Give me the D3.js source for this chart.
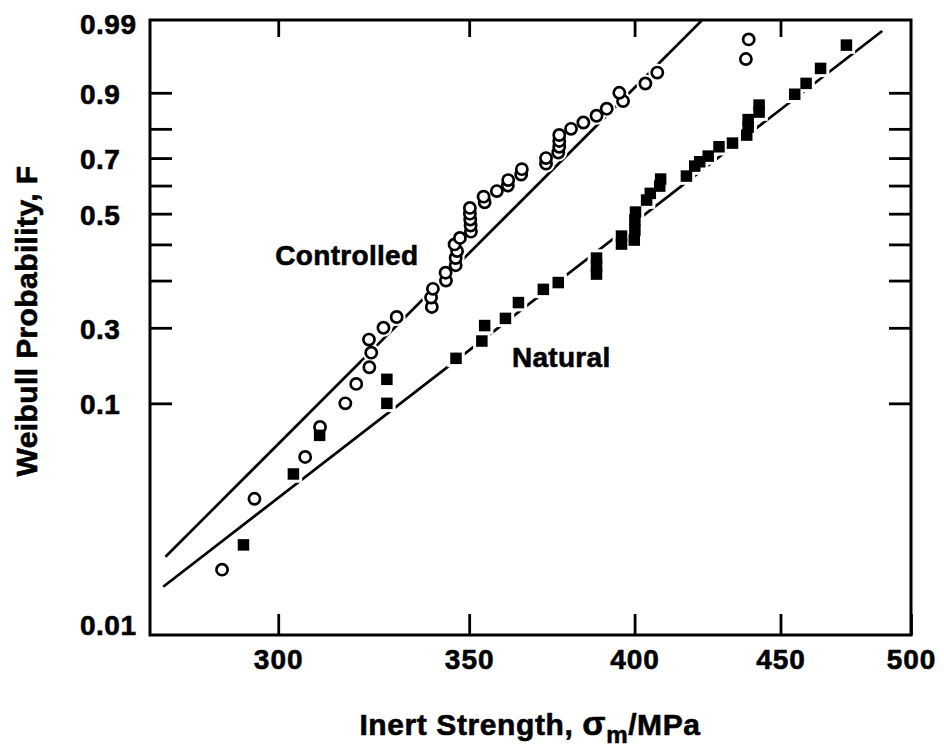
<!DOCTYPE html>
<html><head><meta charset="utf-8">
<script src="https://cdn.jsdelivr.net/npm/d3@7"></script>
<style>
body{margin:0;background:#fff}
text{font-family:"Liberation Sans",Arial,Helvetica,sans-serif;font-weight:bold;fill:#000;stroke:#000;stroke-width:0.6px}
</style>
</head><body>
<svg id="chart" width="944" height="750"></svg>
<script>
// ---- data ----
const controlledStrength = [286.7,294.3,306.6,310.3,316.7,319.5,322.9,323.4,322.8,326.6,330.1,339.6,339.4,339.9,343.5,343.4,346.2,346.2,346.6,345.9,347.4,350.5,350.4,350.3,350.2,350.2,354.4,354.1,357.9,361.1,361.2,365.0,365.2,372.4,372.4,376.1,376.4,376.4,376.4,380.0,383.8,387.9,391.1,396.3,395.1,403.5,407.4,437.6,438.6];
const controlledF = [0.02,0.04,0.06,0.08,0.10,0.12,0.14,0.16,0.18,0.20,0.22,0.24,0.26,0.28,0.30,0.32,0.34,0.36,0.38,0.40,0.42,0.44,0.46,0.48,0.50,0.52,0.54,0.56,0.58,0.60,0.62,0.64,0.66,0.68,0.70,0.72,0.74,0.76,0.78,0.80,0.82,0.84,0.86,0.88,0.90,0.92,0.94,0.96,0.98];
const naturalStrength = [291.7,303.7,310.2,327.5,327.5,346.3,353.6,354.4,360.4,364.2,371.6,376.1,387.9,387.9,387.9,395.8,399.9,395.8,400.1,400.1,400.3,403.9,405.1,408.2,408.5,417.1,419.9,421.6,424.5,428.2,432.9,437.9,438.4,438.4,442.3,442.3,455.2,459.4,464.8,474.6];
const naturalF = [0.0255,0.0509,0.0738,0.100,0.1252,0.1519,0.1777,0.2040,0.2173,0.2492,0.2788,0.2951,0.3164,0.3376,0.3598,0.4010,0.4133,0.4258,0.4450,0.4782,0.5055,0.5477,0.5717,0.5981,0.6237,0.6346,0.6711,0.6867,0.7071,0.7400,0.7527,0.7797,0.8056,0.8287,0.8506,0.8697,0.8966,0.9202,0.9468,0.9752];
const controlledFitStrength = [273.9, 422.2];
const controlledFitF = [0.0227, 0.991];
const naturalFitStrength = [273.4, 488.5];
const naturalFitF = [0.0169, 0.9858];
const xTickValues = [300, 350, 400, 450, 500];
const yTickValues = [0.1, 0.2, 0.3, 0.4, 0.5, 0.6, 0.7, 0.8, 0.9];
const yLabelValues = [0.01, 0.1, 0.2, 0.5, 0.7, 0.9, 0.99];
const yLabelTexts = ["0.01", "0.1", "0.3", "0.5", "0.7", "0.9", "0.99"];
const seriesNames = ["Controlled", "Natural"];
const annotationStrength = [299.3, 362.3];
const annotationF = [0.3403, 0.1402];

// ---- layout ----
const margin = {left:150, top:20, right:33, bottom:115};
const W = 944, H = 750;
const iw = W - margin.left - margin.right, ih = H - margin.top - margin.bottom;
const weib = F => Math.log(-Math.log(1 - F));

const svg = d3.select("#chart");
const g = svg.append("g").attr("transform", `translate(${margin.left},${margin.top})`);

const x = d3.scaleLog().domain([270.5, 500]).range([0, iw]);
const yLin = d3.scaleLinear().domain([weib(0.0105), weib(0.9913)]).range([ih, 0]);
const y = F => yLin(weib(F));

// axes (inward ticks)
const axBottom = g.append("g").attr("transform", `translate(0,${ih})`)
  .call(d3.axisBottom(x).tickValues(xTickValues).tickFormat(d3.format("d"))
    .tickSizeInner(-21).tickSizeOuter(0).tickPadding(14));
const axTop = g.append("g")
  .call(d3.axisTop(x).tickValues(xTickValues.slice(0,4)).tickFormat("")
    .tickSizeInner(-17).tickSizeOuter(0));
const axLeft = g.append("g")
  .call(d3.axisLeft(yLin).tickValues(yTickValues.map(weib)).tickFormat("")
    .tickSizeInner(-22).tickSizeOuter(0));
const axRight = g.append("g").attr("transform", `translate(${iw},0)`)
  .call(d3.axisRight(yLin).tickValues(yTickValues.map(weib)).tickFormat("")
    .tickSizeInner(-22).tickSizeOuter(0));
[axBottom, axTop, axLeft, axRight].forEach(a => {
  a.select(".domain").remove();
  a.selectAll(".tick line").attr("stroke", "#000").attr("stroke-width", 2.8);
});
axBottom.selectAll(".tick text").attr("font-size", 28).attr("fill", "#000")
  .style("font-family", '"Liberation Sans",Arial,sans-serif').style("font-weight", "bold")
  .style("letter-spacing", "1px");

// frame
g.append("rect").attr("x", 0).attr("y", 0).attr("width", iw).attr("height", ih)
  .attr("fill", "none").attr("stroke", "#000").attr("stroke-width", 3);

// y labels (left-aligned column)
g.append("g").selectAll("text").data(yLabelValues).join("text")
  .attr("x", 80 - margin.left)
  .attr("y", d => Math.min(y(d) + 11, ih))
  .attr("font-size", 28)
  .style("letter-spacing", "0.5px")
  .attr("text-anchor", "start")
  .text((d, i) => yLabelTexts[i]);

// fit lines
const line = d3.line().x(d => x(d[0])).y(d => y(d[1]));
g.append("path").datum(d3.zip(controlledFitStrength, controlledFitF))
  .attr("d", line).attr("fill", "none").attr("stroke", "#000").attr("stroke-width", 2.7);
g.append("path").datum(d3.zip(naturalFitStrength, naturalFitF))
  .attr("d", line).attr("fill", "none").attr("stroke", "#000").attr("stroke-width", 2.7);

const ctrl = d3.zip(controlledStrength, controlledF);
const nat = d3.zip(naturalStrength, naturalF);
const sq = 11.5;

// white halos (break the fit lines around symbols)
g.append("g").selectAll("circle").data(ctrl).join("circle")
  .attr("cx", d => x(d[0])).attr("cy", d => y(d[1])).attr("r", 6)
  .attr("fill", "#fff").attr("stroke", "#fff").attr("stroke-width", 6);
g.append("g").selectAll("rect").data(nat).join("rect")
  .attr("x", d => x(d[0]) - sq/2).attr("y", d => y(d[1]) - sq/2)
  .attr("width", sq).attr("height", sq)
  .attr("fill", "#fff").attr("stroke", "#fff").attr("stroke-width", 6);

// symbols
g.append("g").selectAll("circle").data(ctrl).join("circle")
  .attr("cx", d => x(d[0])).attr("cy", d => y(d[1])).attr("r", 5.6)
  .attr("fill", "#fff").attr("stroke", "#000").attr("stroke-width", 2.7);
g.append("g").selectAll("rect").data(nat).join("rect")
  .attr("x", d => x(d[0]) - sq/2).attr("y", d => y(d[1]) - sq/2)
  .attr("width", sq).attr("height", sq).attr("fill", "#000");

// series annotations
g.append("g").selectAll("text").data(seriesNames).join("text")
  .attr("x", (d, i) => x(annotationStrength[i]))
  .attr("y", (d, i) => y(annotationF[i]))
  .attr("font-size", 28).style("letter-spacing", "0.3px").text(d => d);

// axis titles
const xt = svg.append("text").attr("x", 530).attr("y", 735)
  .attr("text-anchor", "middle").attr("font-size", 30).style("letter-spacing", "0.6px");
xt.append("tspan").text("Inert Strength, ");
xt.append("tspan").text("σ").attr("font-size", 34);
xt.append("tspan").text("m").attr("font-size", 24).attr("dy", 8);
xt.append("tspan").text("/MPa").attr("dy", -8);

svg.append("text").attr("transform", "translate(37,321) rotate(-90)")
  .attr("text-anchor", "middle").attr("font-size", 30).style("letter-spacing", "0.4px")
  .text("Weibull Probability, F");
</script>
</body></html>
